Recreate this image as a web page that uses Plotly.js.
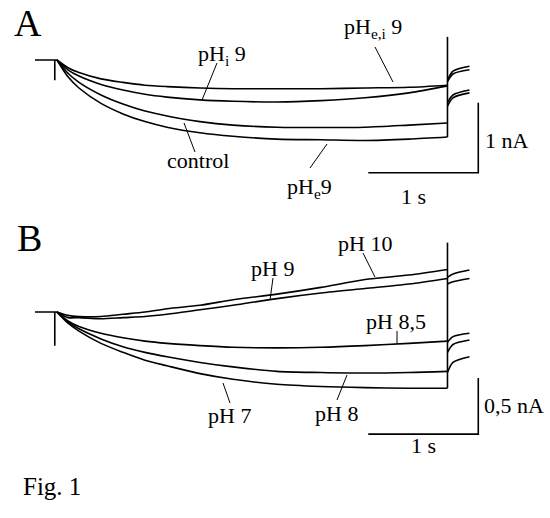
<!DOCTYPE html>
<html>
<head>
<meta charset="utf-8">
<script src="https://cdn.plot.ly/plotly-3.0.1.min.js"></script>
<style>body{margin:0;background:#fff}</style>
</head>
<body>
<div id="chart" style="width:550px;height:518px"></div>
<script>
// time base (s), 0 = start of the test pulse
var t = [0, 0.1, 0.2, 0.4, 0.6, 0.8, 1.0, 1.3, 1.6, 2.0, 2.4, 2.8, 3.2, 3.55];
var tPre = [-0.2, -0.02, -0.02, -0.02, 0];
var tTail = [3.55, 3.6, 3.75];
var tStep = 3.55;

// panel A currents (nA)
var aPHei9 = [0, -0.11, -0.18, -0.27, -0.32, -0.36, -0.38, -0.40, -0.41, -0.41, -0.41, -0.40, -0.39, -0.36];
var aPHi9 = [0, -0.14, -0.23, -0.35, -0.43, -0.49, -0.53, -0.57, -0.59, -0.60, -0.58, -0.54, -0.47, -0.37];
var aControl = [0, -0.19, -0.32, -0.50, -0.63, -0.73, -0.80, -0.88, -0.93, -0.96, -0.965, -0.96, -0.93, -0.90];
var aPHe9 = [0, -0.24, -0.40, -0.62, -0.77, -0.88, -0.96, -1.04, -1.09, -1.13, -1.14, -1.15, -1.13, -1.10];
var aPre = [0, 0, -0.29, 0, 0];
var aTails = [[-0.29, -0.16, -0.09], [-0.31, -0.20, -0.14], [-0.61, -0.50, -0.43], [-0.66, -0.54, -0.47]];
var aStep = [0.33, -1.10];

// panel B currents (nA)
var bPH10 = [0, -0.03, -0.04, -0.04, -0.02, 0, 0.03, 0.06, 0.11, 0.16, 0.22, 0.29, 0.33, 0.38];
var bPH9 = [0, -0.05, -0.05, -0.06, -0.05, -0.04, -0.02, 0.02, 0.06, 0.12, 0.17, 0.21, 0.25, 0.30];
var bPH85 = [0, -0.08, -0.13, -0.19, -0.23, -0.26, -0.28, -0.30, -0.315, -0.32, -0.315, -0.30, -0.28, -0.26];
var bPH8 = [0, -0.09, -0.15, -0.24, -0.31, -0.36, -0.40, -0.45, -0.49, -0.53, -0.54, -0.545, -0.54, -0.53];
var bPH7 = [0, -0.10, -0.17, -0.28, -0.36, -0.43, -0.48, -0.55, -0.60, -0.645, -0.665, -0.675, -0.68, -0.68];
var bPre = [0, 0, -0.30, 0, 0];
var bTails = [[0.31, 0.34, 0.375], [0.25, 0.27, 0.30], [-0.27, -0.22, -0.19], [-0.36, -0.29, -0.25], [-0.54, -0.45, -0.40]];
var bStep = [0.62, -0.68];

// scale bars
var barT = [2.83, 3.83];
var barA = 1.0;   // nA
var barB = 0.5;   // nA
var barAy0 = -1.61;
var barBy0 = -1.09;

var W = 550, H = 518;
function px(x) { return x / W; }
function py(y) { return 1 - y / H; }

var data = [];

function addLine(x, y, axis, shape) {
    data.push({
        x: x, y: y, yaxis: axis, type: 'scatter', mode: 'lines',
        line: {color: 'black', width: 1.6, shape: shape || 'linear', smoothing: 0.8},
        hoverinfo: 'skip', showlegend: false
    });
}

[aPHei9, aPHi9, aControl, aPHe9].forEach(function(s) { addLine(t, s, 'y', 'spline'); });
addLine(tPre, aPre, 'y');
aTails.forEach(function(s) { addLine(tTail, s, 'y', 'spline'); });
addLine([tStep, tStep], aStep, 'y');
addLine([barT[0], barT[1], barT[1]], [barAy0, barAy0, barAy0 + barA], 'y');

[bPH10, bPH9, bPH85, bPH8, bPH7].forEach(function(s) { addLine(t, s, 'y2', 'spline'); });
addLine(tPre, bPre, 'y2');
bTails.forEach(function(s) { addLine(tTail, s, 'y2', 'spline'); });
addLine([tStep, tStep], bStep, 'y2');
addLine([barT[0], barT[1], barT[1]], [barBy0, barBy0, barBy0 + barB], 'y2');

// labels: [text, x px, y px, size]
var labels = [
    ['A', 28, 23, 38],
    ['B', 29, 238, 38],
    ['pH<sub>i</sub> 9', 222, 55, 22],
    ['pH<sub>e,i</sub> 9', 373, 28, 22],
    ['control', 198, 161, 22],
    ['pH<sub>e</sub>9', 309, 188, 22],
    ['1 nA', 507, 140, 22],
    ['1 s', 413, 196, 22],
    ['pH 9', 272, 268, 22],
    ['pH 10', 365, 243, 22],
    ['pH 8,5', 396, 321, 22],
    ['pH 8', 336, 413, 22],
    ['pH 7', 229, 415, 22],
    ['0,5 nA', 514, 405, 22],
    ['1 s', 423, 446, 22],
    ['Fig. 1', 52, 486, 25]
];
var annotations = labels.map(function(l) {
    return {
        text: l[0], x: px(l[1]), y: py(l[2]), xref: 'paper', yref: 'paper',
        xanchor: 'center', yanchor: 'middle', showarrow: false,
        font: {family: 'Liberation Serif', size: l[3], color: 'black'}
    };
});

// leader lines, pixels
var leaders = [
    [217, 63, 202, 100], [375, 47, 393, 82], [184, 123, 195, 152], [327, 144, 310, 168],
    [273, 278, 270, 300], [363, 253, 375, 277], [397, 331, 397, 344], [347, 375, 337, 400],
    [223, 383, 230, 403]
];
var shapes = leaders.map(function(s) {
    return {
        type: 'line', xref: 'paper', yref: 'paper',
        x0: px(s[0]), y0: py(s[1]), x1: px(s[2]), y1: py(s[3]),
        line: {color: 'black', width: 1}
    };
});

var hidden = {visible: false, fixedrange: true};
var layout = {
    width: W, height: H,
    margin: {l: 0, r: 0, t: 0, b: 0},
    paper_bgcolor: 'white', plot_bgcolor: 'white',
    showlegend: false,
    font: {family: 'Liberation Serif', color: 'black'},
    xaxis: Object.assign({range: [-0.518, 4.482], domain: [0, 1]}, hidden),
    yaxis: Object.assign({range: [-2.143, 0.857], domain: [1 - 210 / H, 1]}, hidden),
    yaxis2: Object.assign({range: [-1.839, 0.911], domain: [0, 1 - 210 / H], anchor: 'x'}, hidden),
    annotations: annotations,
    shapes: shapes
};

Plotly.newPlot('chart', data, layout, {staticPlot: true, displayModeBar: false});
</script>
</body>
</html>
